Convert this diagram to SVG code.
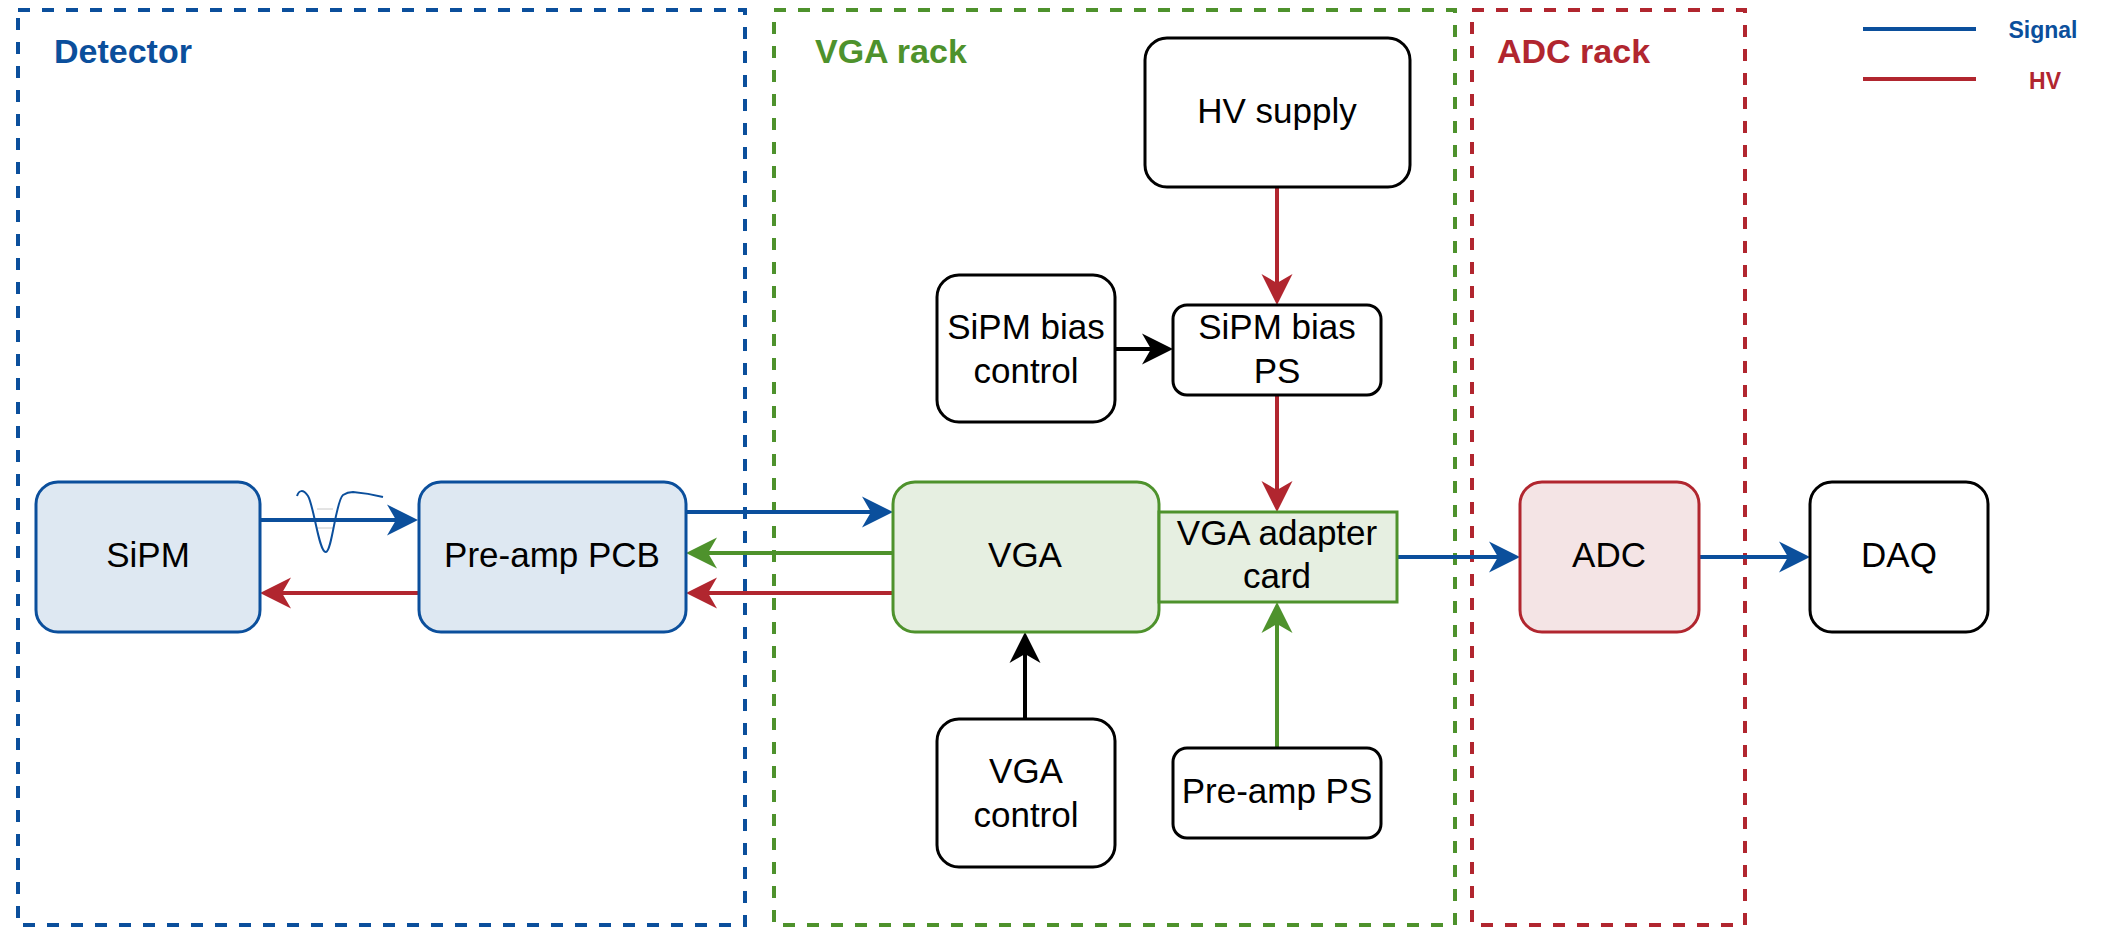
<svg xmlns="http://www.w3.org/2000/svg" width="2103" height="927" viewBox="0 0 2103 927">
  <style>
    .t{font-family:"Liberation Sans",Arial,sans-serif;font-size:35px;fill:#000;text-anchor:middle}
    .title{font-family:"Liberation Sans",Arial,sans-serif;font-size:34px;font-weight:bold}
    .leg{font-family:"Liberation Sans",Arial,sans-serif;font-size:23px;font-weight:bold;text-anchor:middle}
    .grp{fill:none;stroke-width:4;stroke-dasharray:12 12}
    .box{stroke-width:3}
    .plain{fill:#fff;stroke:#000}
    .blue{stroke:#0B4F9C}
    .green{stroke:#4E922C}
    .red{stroke:#B1262F}
    .black{stroke:#000}
    .c{stroke-width:4;fill:none}
  </style>
  <defs>
    <marker id="aBlue" viewBox="0 -16 31 32" refX="9" refY="0" markerWidth="31" markerHeight="32" markerUnits="userSpaceOnUse" orient="auto"><path d="M31,0 L0,-15.5 L9,0 L0,15.5 Z" fill="#0B4F9C"/></marker>
    <marker id="aGreen" viewBox="0 -16 31 32" refX="9" refY="0" markerWidth="31" markerHeight="32" markerUnits="userSpaceOnUse" orient="auto"><path d="M31,0 L0,-15.5 L9,0 L0,15.5 Z" fill="#4E922C"/></marker>
    <marker id="aRed" viewBox="0 -16 31 32" refX="9" refY="0" markerWidth="31" markerHeight="32" markerUnits="userSpaceOnUse" orient="auto"><path d="M31,0 L0,-15.5 L9,0 L0,15.5 Z" fill="#B1262F"/></marker>
    <marker id="aBlack" viewBox="0 -16 31 32" refX="9" refY="0" markerWidth="31" markerHeight="32" markerUnits="userSpaceOnUse" orient="auto"><path d="M31,0 L0,-15.5 L9,0 L0,15.5 Z" fill="#000"/></marker>
  </defs>
  <rect width="2103" height="927" fill="#fff"/>

  <g id="group-detector">
    <rect class="grp blue" x="18" y="10" width="727" height="915"/>
    <text class="title" x="54" y="63" fill="#0B4F9C">Detector</text>
  </g>
  <g id="group-vga-rack">
    <rect class="grp green" x="774" y="10" width="681" height="915"/>
    <text class="title" x="815" y="63" fill="#4E922C">VGA rack</text>
  </g>
  <g id="group-adc-rack">
    <rect class="grp red" x="1472" y="10" width="273" height="915"/>
    <text class="title" x="1497" y="63" fill="#B1262F">ADC rack</text>
  </g>

  <g id="legend">
    <line x1="1863" y1="29" x2="1976" y2="29" stroke="#0B4F9C" stroke-width="4"/>
    <text class="leg" x="2043" y="38" fill="#0B4F9C">Signal</text>
    <line x1="1863" y1="79" x2="1976" y2="79" stroke="#B1262F" stroke-width="4"/>
    <text class="leg" x="2045" y="89" fill="#B1262F">HV</text>
  </g>

  <g id="connectors">
    <line class="c blue" x1="260" y1="520" x2="396" y2="520" marker-end="url(#aBlue)"/>
    <line class="c red" x1="419" y1="593" x2="282" y2="593" marker-end="url(#aRed)"/>
    <line class="c blue" x1="686" y1="512" x2="871" y2="512" marker-end="url(#aBlue)"/>
    <line class="c green" x1="893" y1="553" x2="708" y2="553" marker-end="url(#aGreen)"/>
    <line class="c red" x1="893" y1="593" x2="708" y2="593" marker-end="url(#aRed)"/>
    <line class="c red" x1="1277" y1="187" x2="1277" y2="283" marker-end="url(#aRed)"/>
    <line class="c black" x1="1115" y1="349" x2="1151" y2="349" marker-end="url(#aBlack)"/>
    <line class="c red" x1="1277" y1="395" x2="1277" y2="490" marker-end="url(#aRed)"/>
    <line class="c black" x1="1025" y1="719" x2="1025" y2="654" marker-end="url(#aBlack)"/>
    <line class="c green" x1="1277" y1="748" x2="1277" y2="624" marker-end="url(#aGreen)"/>
    <line class="c blue" x1="1397" y1="557" x2="1498" y2="557" marker-end="url(#aBlue)"/>
    <line class="c blue" x1="1699" y1="557" x2="1788" y2="557" marker-end="url(#aBlue)"/>
  </g>

  <g id="pulse">
    <line x1="317" y1="509" x2="333" y2="509" stroke="#C8C8C8" stroke-width="1"/>
    <line x1="317" y1="528" x2="333" y2="528" stroke="#C8C8C8" stroke-width="1"/>
    <path d="M297,496 C299,490 303,489 308,496 C314,506 319,553 326,552 C332,551 336,500 343,495 C346,493 349,492 353,492 C365,493 375,495 383,497" fill="none" stroke="#0B4F9C" stroke-width="2"/>
  </g>

  <g id="node-sipm">
    <rect class="box blue" x="36" y="482" width="224" height="150" rx="22" fill="#DEE8F2"/>
    <text class="t" x="148" y="567">SiPM</text>
  </g>
  <g id="node-preamp-pcb">
    <rect class="box blue" x="419" y="482" width="267" height="150" rx="22" fill="#DEE8F2"/>
    <text class="t" x="552" y="567">Pre-amp PCB</text>
  </g>
  <g id="node-hv-supply">
    <rect class="box plain" x="1145" y="38" width="265" height="149" rx="22"/>
    <text class="t" x="1277" y="123">HV supply</text>
  </g>
  <g id="node-sipm-bias-control">
    <rect class="box plain" x="937" y="275" width="178" height="147" rx="22"/>
    <text class="t" x="1026" y="339">SiPM bias</text>
    <text class="t" x="1026" y="383">control</text>
  </g>
  <g id="node-sipm-bias-ps">
    <rect class="box plain" x="1173" y="305" width="208" height="90" rx="14"/>
    <text class="t" x="1277" y="339">SiPM bias</text>
    <text class="t" x="1277" y="383">PS</text>
  </g>
  <g id="node-vga">
    <rect class="box green" x="893" y="482" width="266" height="150" rx="22" fill="#E6EFE1"/>
    <text class="t" x="1025" y="567">VGA</text>
  </g>
  <g id="node-vga-adapter-card">
    <rect class="box green" x="1159" y="512" width="238" height="90" fill="#E6EFE1"/>
    <text class="t" x="1277" y="545">VGA adapter</text>
    <text class="t" x="1277" y="588">card</text>
  </g>
  <g id="node-vga-control">
    <rect class="box plain" x="937" y="719" width="178" height="148" rx="22"/>
    <text class="t" x="1026" y="783">VGA</text>
    <text class="t" x="1026" y="827">control</text>
  </g>
  <g id="node-preamp-ps">
    <rect class="box plain" x="1173" y="748" width="208" height="90" rx="14"/>
    <text class="t" x="1277" y="803">Pre-amp PS</text>
  </g>
  <g id="node-adc">
    <rect class="box red" x="1520" y="482" width="179" height="150" rx="22" fill="#F4E4E5"/>
    <text class="t" x="1609" y="567">ADC</text>
  </g>
  <g id="node-daq">
    <rect class="box plain" x="1810" y="482" width="178" height="150" rx="22"/>
    <text class="t" x="1899" y="567">DAQ</text>
  </g>
</svg>
